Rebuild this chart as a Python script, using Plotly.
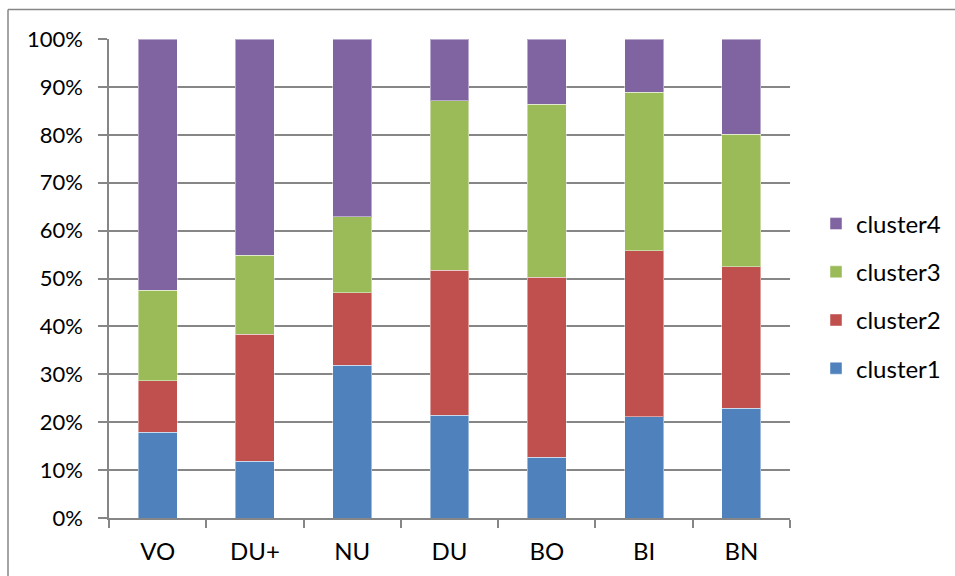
import plotly.graph_objects as go

categories = ["VO", "DU+", "NU", "DU", "BO", "BI", "BN"]
cluster1 = [17.9, 11.9, 31.9, 21.5, 12.7, 21.1, 22.9]
cluster2 = [10.8, 26.5, 15.1, 30.2, 37.6, 34.7, 29.6]
cluster3 = [18.9, 16.5, 15.9, 35.4, 36.1, 33.1, 27.6]
cluster4 = [52.4, 45.1, 37.1, 12.9, 13.6, 11.1, 19.9]
series_names = ["cluster1", "cluster2", "cluster3", "cluster4"]
series_values = [cluster1, cluster2, cluster3, cluster4]
colors = ["#4F81BD", "#C0504D", "#9BBB59", "#8064A2"]
ytick_vals = [0, 10, 20, 30, 40, 50, 60, 70, 80, 90, 100]
ytick_text = ["0%", "10%", "20%", "30%", "40%", "50%", "60%", "70%", "80%", "90%", "100%"]

FONT = "Lato, Calibri, Carlito, sans-serif"
GRID = "#868686"
FS = 24

fig = go.Figure()
n = len(series_names)
for i, (name, vals, col) in enumerate(zip(series_names, series_values, colors)):
    fig.add_trace(go.Bar(
        x=categories, y=vals, name=name, legendgroup=name, legendrank=n - i,
        marker=dict(color=col, line=dict(color="rgba(255,255,255,0.45)", width=1)),
    ))

W, H = 955, 576
L, R, T, B = 109, 165, 39, 58
pw = W - L - R
ph = H - T - B

fig.update_layout(
    width=W, height=H, autosize=False,
    margin=dict(l=L, r=R, t=T, b=B, autoexpand=False),
    barmode="stack", barnorm="percent", bargap=0.6,
    paper_bgcolor="white", plot_bgcolor="white",
    font=dict(family=FONT, size=FS, color="#000000"),
    showlegend=True,
    legend=dict(
        traceorder="grouped", tracegroupgap=14,
        x=(816 - L) / pw, xanchor="left",
        y=(H - B - 296) / ph, yanchor="middle",
        font=dict(family=FONT, size=FS, color="#000000"),
        itemwidth=30, bgcolor="rgba(0,0,0,0)",
    ),
    xaxis=dict(
        showline=True, linecolor=GRID, linewidth=1.5,
        ticks="outside", ticklen=8, tickcolor=GRID, tickwidth=1.5,
        tickson="boundaries", showgrid=False,
        ticklabelstandoff=11,
    ),
    yaxis=dict(
        range=[0, 100], tickmode="array", tickvals=ytick_vals, ticktext=ytick_text,
        tickfont=dict(size=22),
        showline=True, linecolor=GRID, linewidth=1.5,
        ticks="outside", ticklen=9, tickcolor=GRID, tickwidth=1.5,
        showgrid=True, gridcolor=GRID, gridwidth=1.5,
        zeroline=False, ticklabelstandoff=11,
    ),
)

# outer chart frame (left and top edges visible)
fx = (8 - L) / pw
fy = (H - B - 9.5) / ph
fig.add_shape(type="line", xref="paper", yref="paper",
              x0=fx, x1=fx, y0=-0.2, y1=fy, line=dict(color=GRID, width=1.5))
fig.add_shape(type="line", xref="paper", yref="paper",
              x0=fx, x1=(W - L + 5) / pw, y0=fy, y1=fy, line=dict(color=GRID, width=1.5))

fig.write_html("out.html")
